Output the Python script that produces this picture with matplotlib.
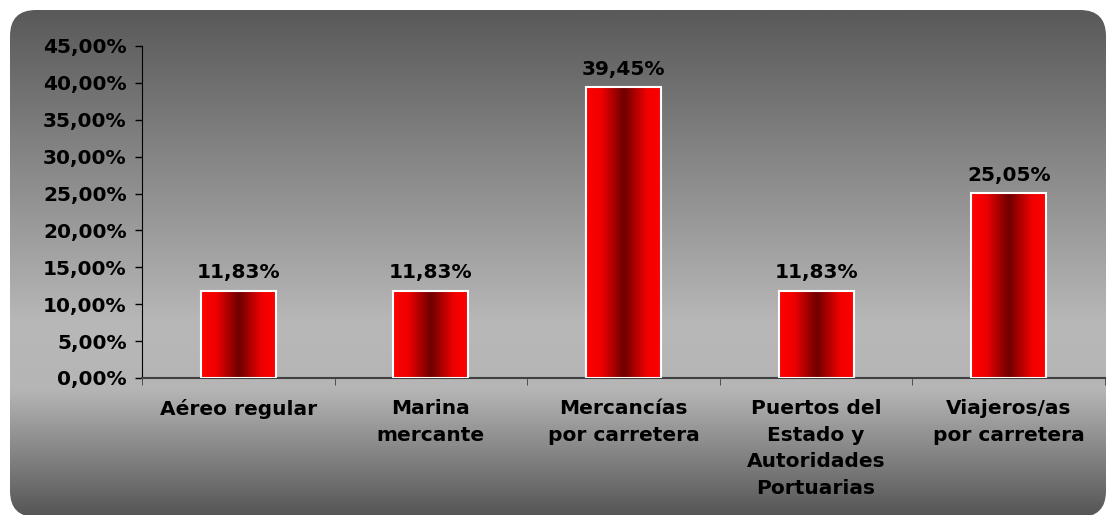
import numpy as np
import matplotlib
matplotlib.use("Agg")
from matplotlib import pyplot as plt
from matplotlib.colors import LinearSegmentedColormap
from matplotlib.patches import FancyBboxPatch

categories = [
    "Aéreo regular",
    "Marina\nmercante",
    "Mercancías\npor carretera",
    "Puertos del\nEstado y\nAutoridades\nPortuarias",
    "Viajeros/as\npor carretera",
]
values = [11.83, 11.83, 39.45, 11.83, 25.05]
value_labels = ["11,83%", "11,83%", "39,45%", "11,83%", "25,05%"]
y_ticks = [0, 5, 10, 15, 20, 25, 30, 35, 40, 45]

W, H, DPI = 1107, 515, 100
FS = 14.5
plt.rcParams["font.family"] = ["DejaVu Sans"]
plt.rcParams["font.weight"] = "bold"

fig = plt.figure(figsize=(W / DPI, H / DPI), dpi=DPI)
fig.patch.set_facecolor("white")

# background panel: rounded box with vertical gray gradient
bg = fig.add_axes([0, 0, 1, 1], zorder=0)
bg.set_xlim(0, W)
bg.set_ylim(H, 0)
bg.axis("off")
gray = LinearSegmentedColormap.from_list(
    "bg", [(0, "#595959"), (0.62, "#b8b8b8"), (0.75, "#b5b5b5"), (1, "#555555")])
grad = np.linspace(0, 1, 256).reshape(-1, 1)
img = bg.imshow(grad, cmap=gray, aspect="auto", extent=(10, W + 40, 517, 10))
panel = FancyBboxPatch((10, 10), W - 11, 507, boxstyle="round,pad=0,rounding_size=26",
                       transform=bg.transData, facecolor="none", edgecolor="none")
bg.add_patch(panel)
img.set_clip_path(panel)

ax = fig.add_axes([142 / W, 1 - 378 / H, (1105 - 142) / W, (378 - 46) / H], zorder=1)
ax.patch.set_visible(False)

red = LinearSegmentedColormap.from_list(
    "bar", [(0, "#ff0000"), (0.2, "#f00000"), (0.5, "#6e0000"), (0.8, "#f00000"), (1, "#ff0000")])
hgrad = np.linspace(0, 1, 256).reshape(1, -1)

x = np.arange(len(categories))
width = 0.39
bars = ax.bar(x, values, width=width, color="none", edgecolor="white", linewidth=1.5, zorder=3)
for b in bars:
    x0, w, h = b.get_x(), b.get_width(), b.get_height()
    im = ax.imshow(hgrad, cmap=red, aspect="auto", extent=(x0, x0 + w, 0, h), zorder=2)
    im.set_clip_path(b)

for xi, v, lab in zip(x, values, value_labels):
    ax.annotate(lab, (xi, v), xytext=(0, 6), textcoords="offset points",
                ha="center", va="bottom", fontsize=FS, fontweight="bold", color="black")

ax.set_xlim(-0.5, len(categories) - 0.5)
ax.set_ylim(0, 45)
ax.set_yticks(y_ticks)
ax.set_yticklabels([f"{t:.2f}%".replace(".", ",") for t in y_ticks])
ax.set_xticks(x)
ax.set_xticklabels(categories, linespacing=1.52)
ax.set_xticks(np.arange(len(categories) + 1) - 0.5, minor=True)
ax.tick_params(axis="x", which="major", length=0, pad=15, labelsize=FS)
ax.tick_params(axis="x", which="minor", length=5, color="#404040", direction="out")
ax.tick_params(axis="y", length=5, width=1, color="black", labelsize=FS, pad=6)
for lbl in ax.get_xticklabels() + ax.get_yticklabels():
    lbl.set_fontweight("bold")

for s in ["top", "right"]:
    ax.spines[s].set_visible(False)
ax.spines["left"].set_color("black")
ax.spines["bottom"].set_color("#404040")
ax.spines["bottom"].set_linewidth(1.5)

fig.savefig("out.png", dpi=DPI)
